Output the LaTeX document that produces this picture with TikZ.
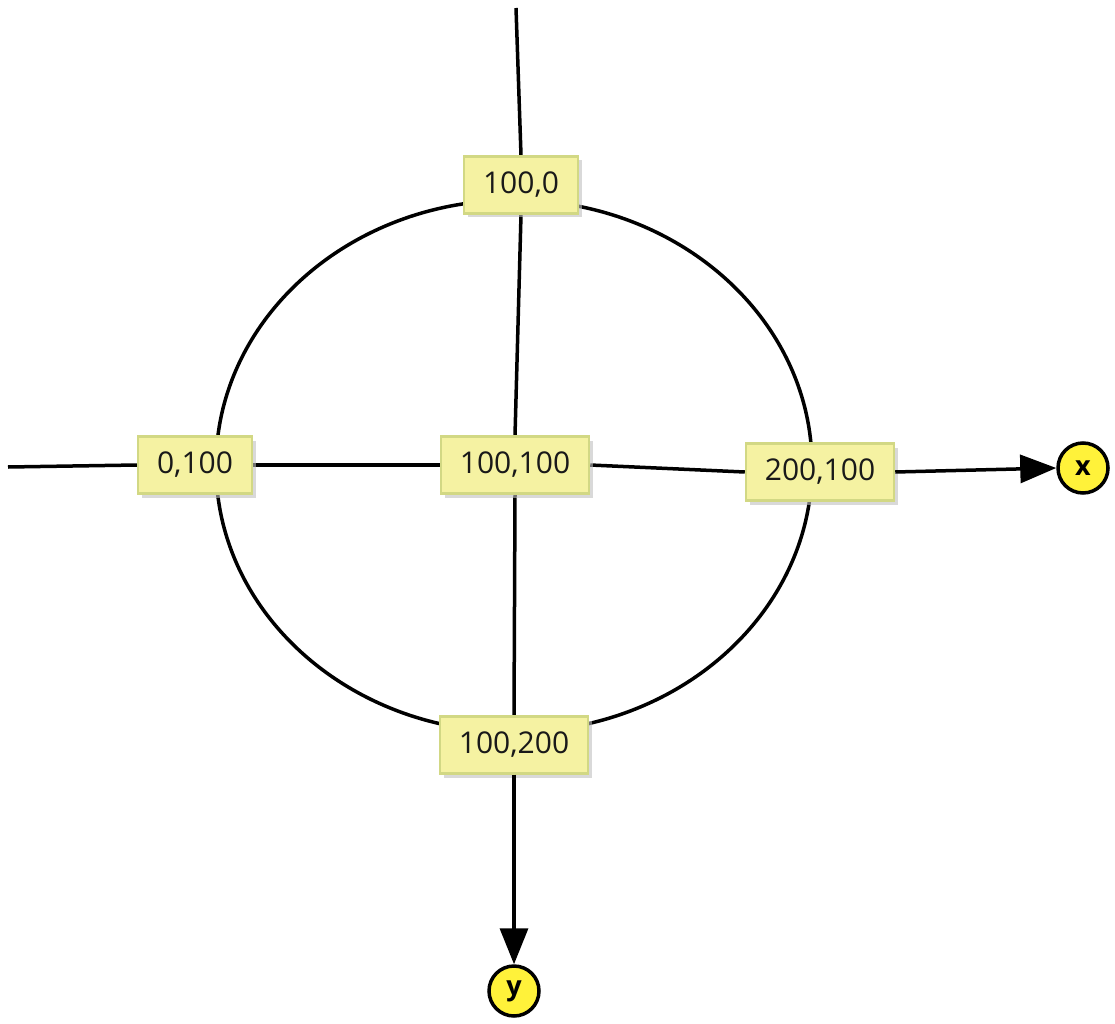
\documentclass[tikz,border=0pt]{standalone}
\usepackage{fontspec}
\setmainfont{Open Sans}
\usetikzlibrary{arrows.meta,shadows}
\pgfdeclarelayer{background}
\pgfsetlayers{background,main}
\definecolor{lblfill}{HTML}{F5F2A2}
\definecolor{lbldraw}{HTML}{D2D884}
\definecolor{axfill}{HTML}{FFF23A}
\tikzset{
  lbl/.style={draw=lbldraw, line width=2.2pt, fill=lblfill, minimum height=57pt, inner xsep=19pt,
    font=\fontsize{30}{32}\selectfont, text=black!90,
    drop shadow={shadow xshift=4pt, shadow yshift=-4pt, fill=black!25, opacity=0.6}},
  axis/.style={circle, draw=black, line width=3.5pt, fill=axfill, minimum size=50pt, inner sep=0pt,
    font=\fontsize{27}{29}\selectfont\bfseries},
  wire/.style={line width=3.5pt, black},
  arr/.style={wire, -{Triangle[length=36pt,width=28pt]}},
}
\begin{document}
\begin{tikzpicture}[x=1pt,y=-1pt]
\useasboundingbox (0,0) rectangle (1115,1024);
% nodes
\node[lbl] (n10) at (521,185) {100,0};
\node[lbl] (n01) at (195,465) {0,100};
\node[lbl] (n11) at (515,465) {100,100};
\node[lbl] (n21) at (820,472) {200,100};
\node[lbl] (n12) at (514,745) {100,200};
\node[axis] (x) at (1083,468) {x};
\node[axis] (y) at (514,991) {y};
\coordinate (top) at (516,8);
\coordinate (left) at (8,467);
\coordinate (ctr) at (514,466);
\begin{pgfonlayer}{background}
% ring passing behind the labels
\draw[wire] (ctr) ellipse [x radius=298, y radius=266];
% axes
\draw[wire] (top) -- (n10.north);
\draw[wire] (n10.south) -- (n11.north);
\draw[wire] (n11.south) -- (n12.north);
\draw[wire] (left) -- (n01.west);
\draw[wire] (n01.east) -- (n11.west);
\draw[wire] (n11.east) -- (n21.west);
\end{pgfonlayer}
\draw[arr] (n12.south) -- (y.north);
\draw[arr] (n21.east) -- (x.west);
\end{tikzpicture}
\end{document}
